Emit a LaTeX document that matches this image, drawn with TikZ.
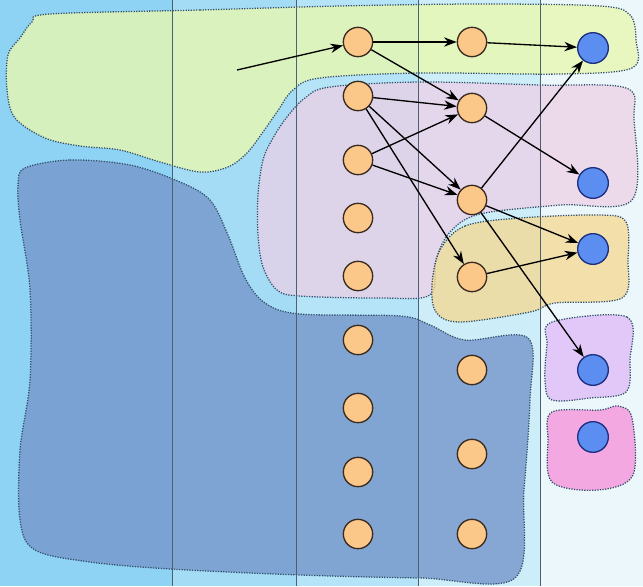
\documentclass[tikz,border=0pt]{standalone}
\usetikzlibrary{arrows.meta}
\definecolor{colA}{HTML}{8FD3F4}
\definecolor{colB}{HTML}{A5DCF5}
\definecolor{colC}{HTML}{B5E3F7}
\definecolor{colD}{HTML}{CDEEF9}
\definecolor{colE}{HTML}{EBF7FB}
\definecolor{blobgreen}{HTML}{E8F8B0}
\definecolor{bloblav}{HTML}{EDCFE6}
\definecolor{blobtan}{HTML}{F5D890}
\definecolor{blobblue}{HTML}{7596CB}
\definecolor{blobpurple}{HTML}{E2C8F8}
\definecolor{blobpink}{HTML}{F4A8E2}
\definecolor{edgecol}{HTML}{33506A}
\definecolor{nodeor}{HTML}{FCC88A}
\definecolor{nodeordraw}{HTML}{3A2A20}
\definecolor{nodebl}{HTML}{5B8EF0}
\definecolor{nodebldraw}{HTML}{1C2F80}
\definecolor{sepline}{HTML}{4E6070}
\begin{document}
\begin{tikzpicture}[x=0.75pt,y=-0.75pt,
  blob/.style={draw=edgecol,densely dotted,line width=0.95pt},
  orn/.style={circle,draw=nodeordraw,fill=nodeor,line width=1pt,minimum size=22pt,inner sep=0pt},
  bln/.style={circle,draw=nodebldraw,fill=nodebl,line width=1pt,minimum size=23pt,inner sep=0pt},
  arr/.style={-{Stealth[length=9.5pt,width=7pt]},line width=1pt,black}]
\useasboundingbox (0,0) rectangle (643,586);
% columns
\fill[colA] (0,0) rectangle (172,586);
\fill[colB] (172,0) rectangle (296,586);
\fill[colC] (296,0) rectangle (418,586);
\fill[colD] (418,0) rectangle (540,586);
\fill[colE] (540,0) rectangle (643,586);
% blobs
\path[blob,fill=blobgreen,fill opacity=0.8] plot[smooth cycle,tension=0.55] coordinates {
 (50,14) (200,10) (340,6) (480,4) (600,6) (630,15) (636,40) (632,68) (560,74) (420,73)
 (320,78) (293,90) (277,112) (263,132) (247,153) (228,167) (200,172) (160,162) (120,150) (80,146)
 (45,138) (15,118) (7,90) (8,55) (20,38) (32,22)};
\path[blob,fill=bloblav,fill opacity=0.72] plot[smooth cycle,tension=0.55] coordinates {
 (330,87) (420,82) (540,85) (626,88) (634,120) (632,200) (560,205) (480,214) (450,232)
 (436,260) (430,295) (380,298) (300,296) (277,290) (263,267) (258,235) (258,195) (263,160) (273,138)
 (287,117) (305,98)};
\path[blob,fill=blobtan,fill opacity=0.75] plot[smooth cycle,tension=0.55] coordinates {
 (440,250) (465,226) (520,218) (600,215) (626,222) (628,260) (622,298) (555,303) (530,312)
 (460,322) (436,312) (432,285)};
\path[blob,fill=blobblue,fill opacity=0.8] plot[smooth cycle,tension=0.55] coordinates {
 (25,168) (70,160) (130,165) (180,182) (210,200) (228,235) (245,278) (265,303) (300,314)
 (400,316) (430,325) (465,340) (528,338) (530,400) (524,490) (515,578) (420,578) (300,575)
 (170,569) (90,562) (35,550) (20,520) (20,450) (30,380) (30,290) (20,220) (18,185)};
\path[blob,fill=blobpurple] plot[smooth cycle,tension=0.55] coordinates {
 (552,322) (627,317) (630,360) (626,392) (590,398) (552,400) (545,380) (547,345)};
\path[blob,fill=blobpink] plot[smooth cycle,tension=0.55] coordinates {
 (552,412) (600,410) (618,406) (632,418) (633,475) (598,490) (552,482) (548,440)};
% column separators
\foreach \x in {172,296,418,540} \draw[sepline,line width=0.6pt] (\x,0) -- (\x,586);
% nodes
\node[orn] (a1) at (358,42) {};
\node[orn] (a2) at (358,96) {};
\node[orn] (a3) at (358,160) {};
\node[orn] (a4) at (358,218) {};
\node[orn] (a5) at (358,276) {};
\node[orn] (a6) at (358,340) {};
\node[orn] (a7) at (358,408) {};
\node[orn] (a8) at (358,472) {};
\node[orn] (a9) at (358,534) {};
\node[orn] (b1) at (472,42) {};
\node[orn] (b2) at (472,108) {};
\node[orn] (b3) at (472,200) {};
\node[orn] (b4) at (472,277) {};
\node[orn] (b5) at (472,370) {};
\node[orn] (b6) at (472,454) {};
\node[orn] (b7) at (472,534) {};
\node[bln] (c1) at (593,48) {};
\node[bln] (c2) at (593,183) {};
\node[bln] (c3) at (593,249) {};
\node[bln] (c4) at (593,370) {};
\node[bln] (c5) at (593,437) {};
\coordinate (start) at (237,70);
% arrows
\draw[arr] (start) -- (a1);
\draw[arr] (a1) -- (b1);
\draw[arr] (b1) -- (c1);
\draw[arr] (a1) -- (b2);
\draw[arr] (a2) -- (b2);
\draw[arr] (a2) -- (b3);
\draw[arr] (a2) -- (b4);
\draw[arr] (a3) -- (b2);
\draw[arr] (a3) -- (b3);
\draw[arr] (b2) -- (c2);
\draw[arr] (b3) -- (c1);
\draw[arr] (b3) -- (c3);
\draw[arr] (b3) -- (c4);
\draw[arr] (b4) -- (c3);
\end{tikzpicture}
\end{document}
